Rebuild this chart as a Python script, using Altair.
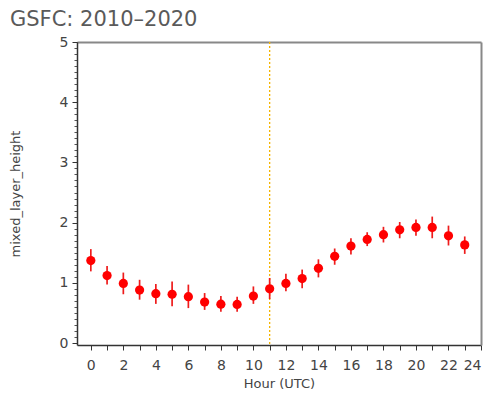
import altair as alt
import pandas as pd

# Hourly mixed layer height at GSFC (mean with spread), 2010-2020
hours = list(range(24))
mlh_mean = [1.37, 1.12, 0.99, 0.88, 0.82, 0.81, 0.77, 0.68, 0.645, 0.64, 0.78, 0.90,
            0.99, 1.07, 1.24, 1.44, 1.61, 1.72, 1.80, 1.88, 1.92, 1.92, 1.78, 1.63]
mlh_upper = [1.56, 1.28, 1.17, 1.05, 0.98, 1.02, 0.97, 0.83, 0.78, 0.77, 0.94, 1.08,
             1.15, 1.22, 1.39, 1.57, 1.74, 1.84, 1.93, 2.01, 2.05, 2.10, 1.95, 1.77]
mlh_lower = [1.19, 0.97, 0.81, 0.72, 0.65, 0.61, 0.58, 0.55, 0.52, 0.52, 0.65, 0.73,
             0.86, 0.91, 1.09, 1.30, 1.47, 1.61, 1.67, 1.74, 1.78, 1.74, 1.62, 1.48]
marker_hour = [11]
x_ticks = list(range(25))
y_ticks = [0, 1, 2, 3, 4, 5]
y_minor = [round(i * 0.1, 1) for i in range(51)]

df = pd.DataFrame({"hour": hours, "mean": mlh_mean, "lo": mlh_lower, "hi": mlh_upper})
marker_df = pd.DataFrame({"hour": marker_hour})

FONT = "DejaVu Sans"
TXT = "#444444"
AXIS_DARK = "#333333"
FRAME = "#888888"

x_scale = alt.Scale(domain=[-0.85, 24], nice=False, zero=False)
y_scale = alt.Scale(domain=[-0.033, 5], nice=False, zero=False)

x_axis = alt.Axis(
    values=x_ticks, orient="bottom",
    labelExpr="datum.value % 2 == 0 ? datum.label : ''",
    title="Hour (UTC)",
    grid=False, tickSize=5, labelPadding=8, titlePadding=5,
    labelFontSize=14, titleFontSize=13, labelFont=FONT, titleFont=FONT,
    labelColor=TXT, titleColor=TXT, titleFontWeight="normal",
    domainColor=AXIS_DARK, tickColor=AXIS_DARK, domainWidth=1.5,
)

y_axis_major = alt.Axis(
    values=y_ticks, title="mixed_layer_height", orient="left",
    grid=False, tickSize=5, labelPadding=4, titlePadding=37,
    labelFontSize=14, titleFontSize=13, labelFont=FONT, titleFont=FONT,
    labelColor=TXT, titleColor=TXT, titleFontWeight="normal",
    domainColor=AXIS_DARK, tickColor=AXIS_DARK, domainWidth=1.5,
)

y_axis_minor = alt.Axis(
    values=y_minor, title=None, labels=False, orient="left",
    grid=False, tickSize=3, domain=False, tickColor="#555555",
)

# plain top / right edges that close the plot box
x_axis_top = alt.Axis(orient="top", title=None, labels=False, ticks=False, grid=False,
                      domainColor=FRAME, domainWidth=2)
y_axis_right = alt.Axis(orient="right", title=None, labels=False, ticks=False, grid=False,
                        domainColor=FRAME, domainWidth=2)

vline = alt.Chart(marker_df).mark_rule(
    color="#f5b400", strokeWidth=1.3, strokeDash=[2, 2]
).encode(x=alt.X("hour:Q", scale=x_scale, axis=None))

bars = alt.Chart(df).mark_rule(color="#ee1c1c", strokeWidth=1.7).encode(
    x=alt.X("hour:Q", scale=x_scale, axis=x_axis),
    y=alt.Y("lo:Q", scale=y_scale, axis=y_axis_minor),
    y2="hi:Q",
)

points = alt.Chart(df).mark_circle(color="#ff0000", opacity=1, size=85).encode(
    x=alt.X("hour:Q", scale=x_scale, axis=None),
    y=alt.Y("mean:Q", scale=y_scale, axis=y_axis_major),
)

frame = alt.Chart(df).mark_point(opacity=0).encode(
    x=alt.X("hour:Q", scale=x_scale, axis=x_axis_top),
    y=alt.Y("mean:Q", scale=y_scale, axis=y_axis_right),
)

chart = (
    alt.layer(frame, vline, bars, points)
    .resolve_scale(x="shared", y="shared")
    .resolve_axis(x="independent", y="independent")
    .properties(
        width=404, height=303,
        autosize=alt.AutoSizeParams(type="none"),
        padding={"left": 77, "top": 42, "right": 7, "bottom": 51},
        title=alt.TitleParams(
            "GSFC: 2010\u20132020", anchor="start", frame="group",
            dx=-67, dy=30, offset=14, baseline="bottom",
            fontSize=21, font=FONT, fontWeight="normal", color="#5a5a5a",
        ),
        background="white",
    )
    .configure_view(stroke=None)
)

chart.save("out.html", embed_options={"renderer": "svg", "actions": False})
